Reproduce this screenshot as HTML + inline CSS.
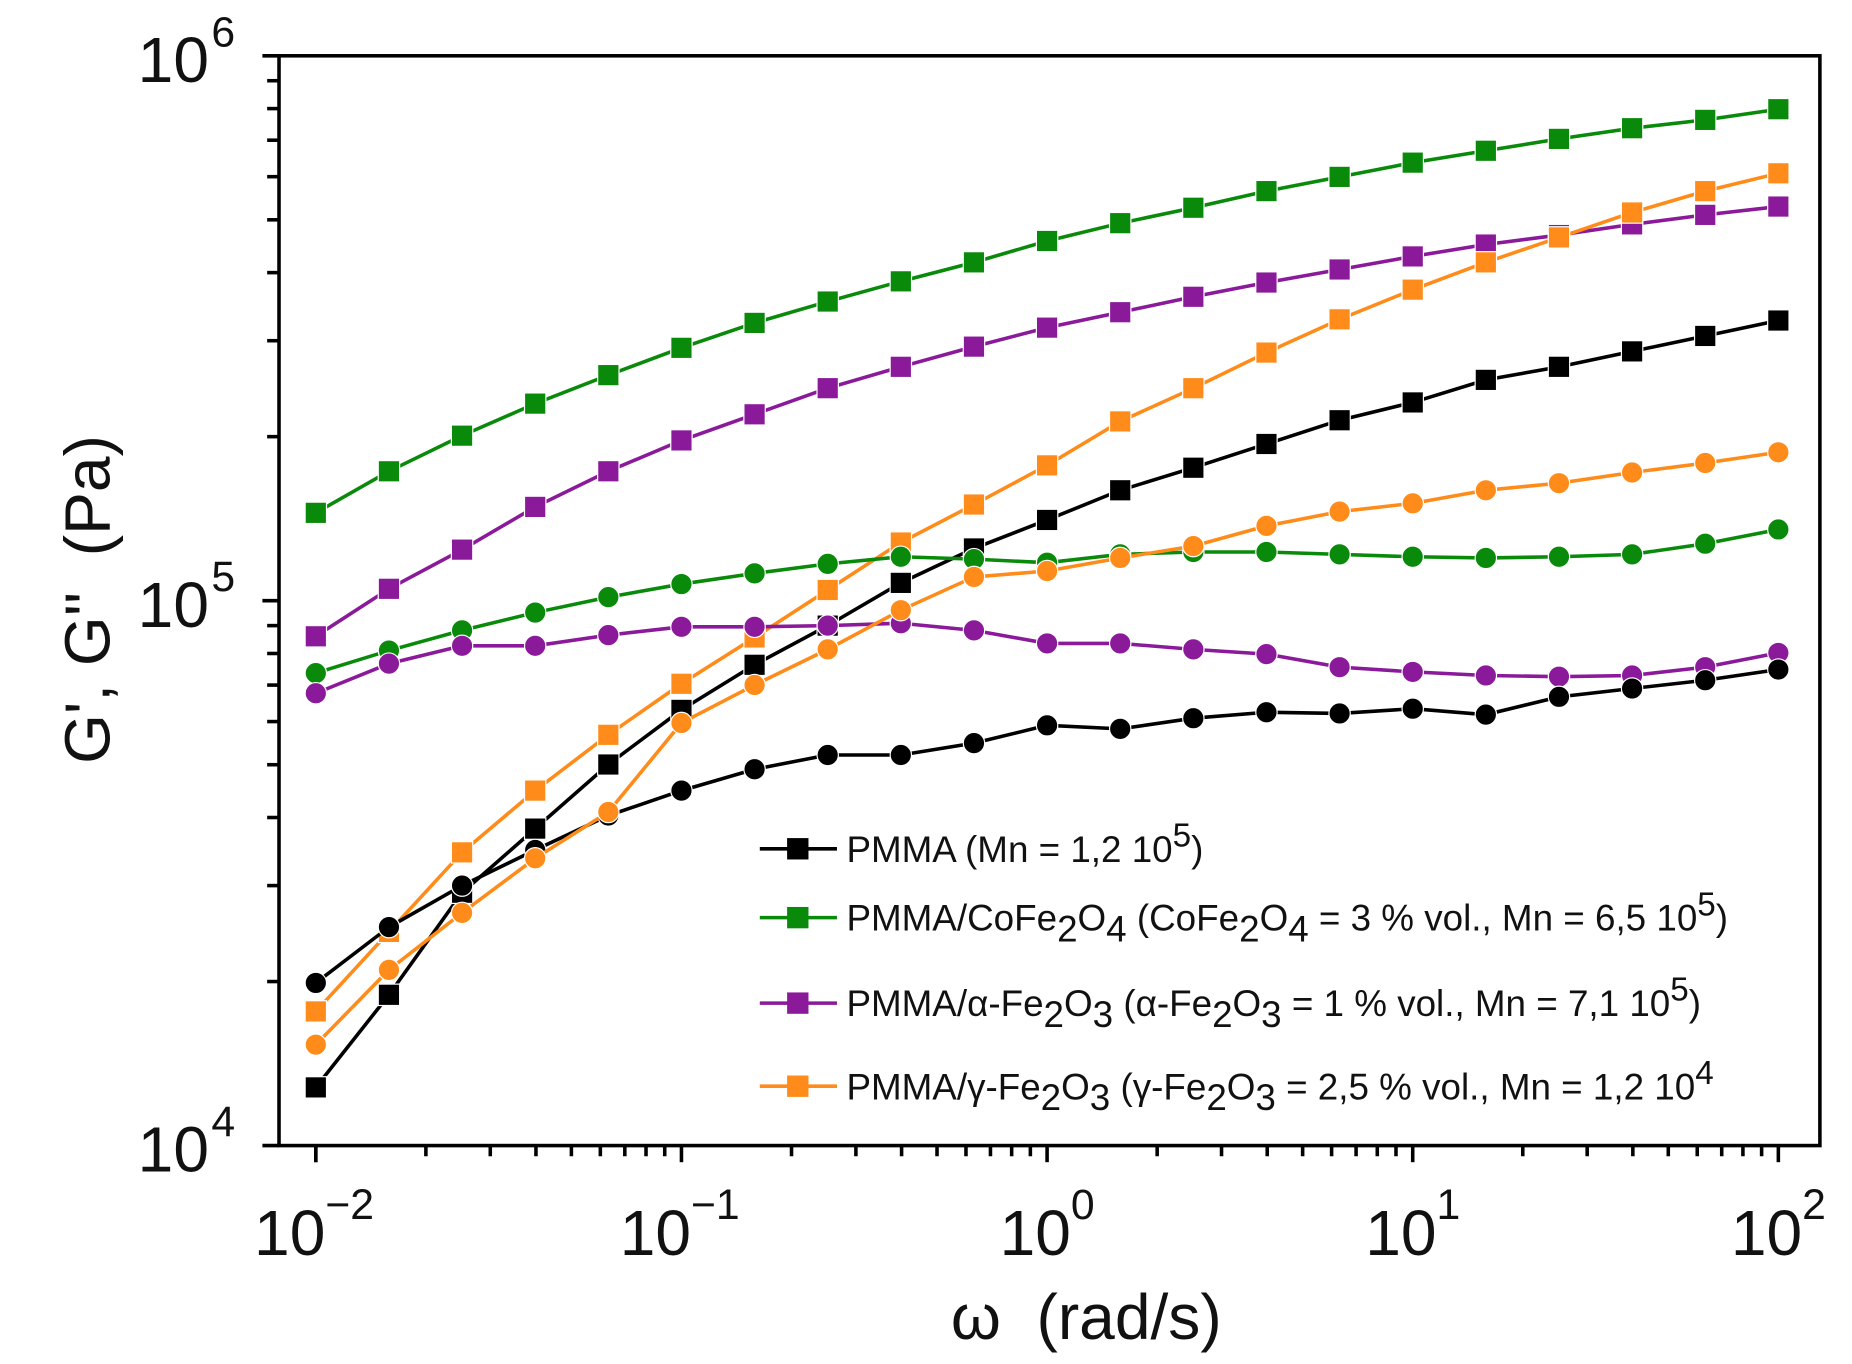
<!DOCTYPE html>
<html><head><meta charset="utf-8"><style>
html,body{margin:0;padding:0;background:#fff}
svg{display:block}
text{font-family:"Liberation Sans",sans-serif;fill:#111}
</style></head><body>
<svg id="c" width="1852" height="1364" viewBox="0 0 1560 1149" xmlns="http://www.w3.org/2000/svg">
<rect x="0" y="0" width="1560" height="1149" fill="#fff"/>
<g id="ax"></g>
<g id="data"></g>
<g id="leg" font-size="31">
 <line x1="640" y1="715" x2="705" y2="715" stroke="#000" stroke-width="3"/><rect x="663" y="706" width="18" height="18" fill="#000"/>
 <text x="713" y="726">PMMA (Mn = 1,2 10<tspan dy="-13" font-size="28">5</tspan><tspan dy="13">)</tspan></text>
 <line x1="640" y1="773" x2="705" y2="773" stroke="#0a8a0a" stroke-width="3"/><rect x="663" y="764" width="18" height="18" fill="#0a8a0a"/>
 <text x="713" y="784">PMMA/CoFe<tspan dy="9">2</tspan><tspan dy="-9">O</tspan><tspan dy="9">4</tspan><tspan dy="-9"> (CoFe</tspan><tspan dy="9">2</tspan><tspan dy="-9">O</tspan><tspan dy="9">4</tspan><tspan dy="-9"> = 3 % vol., Mn = 6,5 10</tspan><tspan dy="-13" font-size="28">5</tspan><tspan dy="13">)</tspan></text>
 <line x1="640" y1="845" x2="705" y2="845" stroke="#8a1a9a" stroke-width="3"/><rect x="663" y="836" width="18" height="18" fill="#8a1a9a"/>
 <text x="713" y="856">PMMA/α-Fe<tspan dy="9">2</tspan><tspan dy="-9">O</tspan><tspan dy="9">3</tspan><tspan dy="-9"> (α-Fe</tspan><tspan dy="9">2</tspan><tspan dy="-9">O</tspan><tspan dy="9">3</tspan><tspan dy="-9"> = 1 % vol., Mn = 7,1 10</tspan><tspan dy="-13" font-size="28">5</tspan><tspan dy="13">)</tspan></text>
 <line x1="640" y1="915" x2="705" y2="915" stroke="#ff8c1a" stroke-width="3"/><rect x="663" y="906" width="18" height="18" fill="#ff8c1a"/>
 <text x="713" y="926">PMMA/γ-Fe<tspan dy="9">2</tspan><tspan dy="-9">O</tspan><tspan dy="9">3</tspan><tspan dy="-9"> (γ-Fe</tspan><tspan dy="9">2</tspan><tspan dy="-9">O</tspan><tspan dy="9">3</tspan><tspan dy="-9"> = 2,5 % vol., Mn = 1,2 10</tspan><tspan dy="-13" font-size="28">4</tspan></text>
</g>
</svg>
<script>
var NS="http://www.w3.org/2000/svg";
function el(p,t,a,txt){var e=document.createElementNS(NS,t);for(var k in a)e.setAttribute(k,a[k]);if(txt!==undefined)e.textContent=txt;p.appendChild(e);return e;}
var ax=document.getElementById('ax'),dg=document.getElementById('data');
var L=235,R=1533,T=47,B=965,X0=266,DX=308,DY=459;
el(ax,'rect',{x:L,y:T,width:R-L,height:B-T,fill:'none',stroke:'#000','stroke-width':3});
for(var d=0;d<2;d++){for(var m=1;m<=10;m++){var y=B-(d+Math.log10(m))*DY;if(m==10&&d==0)continue;
 el(ax,'line',{x1:L-(m==1||m==10?14:10),y1:y,x2:L,y2:y,stroke:'#000','stroke-width':3});}}
[[4,B],[5,B-DY],[6,T]].forEach(function(p){el(ax,'text',{x:176,y:p[1]+22,'font-size':54,'text-anchor':'end'},'10');
 el(ax,'text',{x:178,y:p[1]-8,'font-size':36},String(p[0]));});
for(var d=-2;d<2;d++){for(var m=1;m<=10;m++){if(m==10&&d<1)continue;var x=X0+(d+2+Math.log10(m))*DX;
 el(ax,'line',{x1:x,y1:B,x2:x,y2:B+(m==1||m==10?14:9),stroke:'#000','stroke-width':3});}}
el(ax,'line',{x1:X0,y1:B,x2:X0,y2:B+14,stroke:'#000','stroke-width':3});
for(var d=0;d<5;d++){var x=X0+d*DX;var lab=['−2','−1','0','1','2'][d];
 var off=d<2?-22:-10;
 el(ax,'text',{x:x+off,y:1057,'font-size':54,'text-anchor':'middle'},'10');
 el(ax,'text',{x:x+off+30,y:1027,'font-size':36},lab);}
el(ax,'text',{x:0,y:0,'font-size':54,'text-anchor':'middle',transform:'translate(92,505) rotate(-90)'},"G', G''\u00a0\u00a0(Pa)");
el(ax,'text',{x:915,y:1128,'font-size':54,'text-anchor':'middle'},'ω\u00a0\u00a0(rad/s)');
var S=[
['#0a8a0a','s',[432,397,367,340,316,293,272,254,237,221,203,188,175,161,149,137,127,117,108,101,92]],
['#8a1a9a','s',[536,496,463,427,397,371,349,327,309,292,276,263,250,238,227,216,206,198,189,181,174]],
['#000','s',[916,838,752,698,644,598,560,527,491,462,438,413,394,374,354,339,320,309,296,283,270]],
['#ff8c1a','s',[852,785,718,666,619,576,537,497,457,425,392,355,327,297,269,244,221,200,179,161,146]],
['#0a8a0a','c',[567,548,531,516,503,492,483,475,469,471,474,467,465,465,467,469,470,469,467,458,446]],
['#8a1a9a','c',[584,559,544,544,535,528,528,527,525,531,542,542,547,551,562,566,569,570,569,562,550]],
['#000','c',[828,781,746,716,687,666,648,636,636,626,611,614,605,600,601,597,602,587,580,573,564]],
['#ff8c1a','c',[880,817,769,723,684,609,577,547,514,486,481,470,460,443,431,424,413,407,398,390,381]]
];
S.forEach(function(s){var pts=s[2].map(function(y,i){return (X0+i*DX/5)+','+y;}).join(' ');
 el(dg,'polyline',{points:pts,fill:'none',stroke:s[0],'stroke-width':3});
 s[2].forEach(function(y,i){var x=X0+i*DX/5;
  if(s[1]=='s')el(dg,'rect',{x:x-9,y:y-9,width:18,height:18,fill:s[0],stroke:'#fff','stroke-width':1});
  else el(dg,'circle',{cx:x,cy:y,r:9,fill:s[0],stroke:'#fff','stroke-width':1});});});
</script>
</body></html>
